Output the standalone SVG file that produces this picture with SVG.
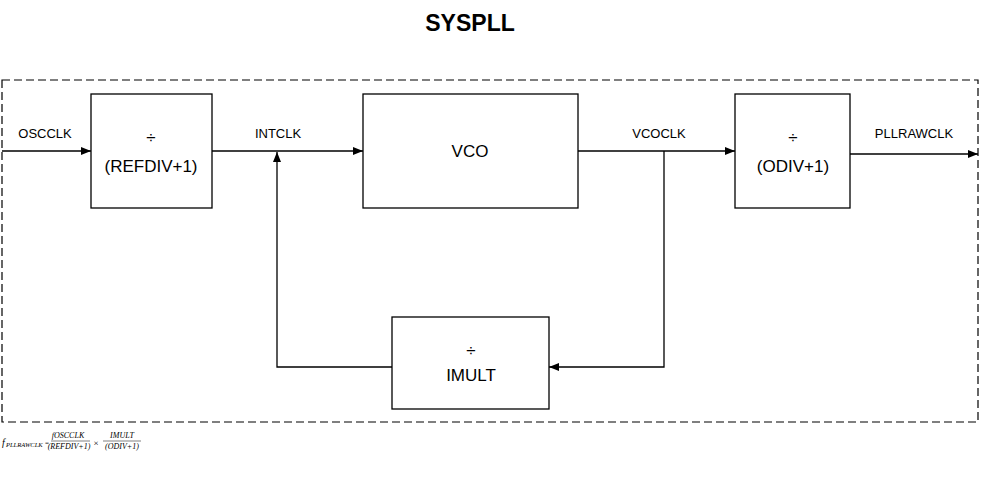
<svg xmlns="http://www.w3.org/2000/svg" width="983" height="487" viewBox="0 0 983 487">
<style>
.box{fill:#fff;stroke:#000;stroke-width:1.3}
.ln{fill:none;stroke:#000;stroke-width:1.3}
.lbl{font-family:"Liberation Sans",Arial,sans-serif;font-size:13px;fill:#000;text-anchor:middle}
.bt{font-family:"Liberation Sans",Arial,sans-serif;font-size:17px;fill:#000;text-anchor:middle}
.fm{font-family:"Liberation Serif","Times New Roman",serif;font-style:italic;fill:#000}
</style>
<defs>
<marker id="ah" viewBox="0 0 10 8" refX="10" refY="4" markerWidth="10" markerHeight="8" markerUnits="userSpaceOnUse" orient="auto">
<path d="M0,0 L10,4 L0,8 Z" fill="#000"/>
</marker>
</defs>
<rect width="983" height="487" fill="#fff"/>
<text x="470" y="31" font-family="Liberation Sans,Arial,sans-serif" font-weight="bold" font-size="23" text-anchor="middle">SYSPLL</text>
<rect id="border" x="2" y="80" width="976" height="342" fill="none" stroke="#000" stroke-width="1.2" stroke-dasharray="8,4"/>
<g id="connectors">
<line class="ln" x1="2" y1="151" x2="91" y2="151" marker-end="url(#ah)"/>
<line class="ln" x1="212" y1="151" x2="363" y2="151" marker-end="url(#ah)"/>
<line class="ln" x1="578" y1="151" x2="735" y2="151" marker-end="url(#ah)"/>
<line class="ln" x1="850" y1="154" x2="978" y2="154" marker-end="url(#ah)"/>
<polyline class="ln" points="664,151 664,367 549,367" marker-end="url(#ah)"/>
<polyline class="ln" points="392,367 277,367 277,152" marker-end="url(#ah)"/>
<text class="lbl" x="45" y="138">OSCCLK</text>
<text class="lbl" x="278" y="138">INTCLK</text>
<text class="lbl" x="659" y="138">VCOCLK</text>
<text class="lbl" x="914" y="138">PLLRAWCLK</text>
</g>
<g id="refdiv">
<rect class="box" x="91" y="94" width="121" height="114"/>
<text class="bt" x="151" y="143">÷</text>
<text class="bt" x="151" y="172">(REFDIV+1)</text>
</g>
<g id="vco">
<rect class="box" x="363" y="94" width="215" height="114"/>
<text class="bt" x="470" y="157">VCO</text>
</g>
<g id="odiv">
<rect class="box" x="735" y="94" width="115" height="114"/>
<text class="bt" x="793" y="143">÷</text>
<text class="bt" x="793" y="172">(ODIV+1)</text>
</g>
<g id="imult">
<rect class="box" x="392" y="317" width="157" height="92"/>
<text class="bt" x="471" y="356">÷</text>
<text class="bt" x="471" y="381">IMULT</text>
</g>
<g id="formula">
<text class="fm" x="2" y="446" style="font-size:10px">f</text>
<text class="fm" x="6" y="447" style="font-size:6.5px">PLLRAWCLK</text>
<text class="fm" x="45" y="445" style="font-size:7px;font-style:normal">=</text>
<text class="fm" x="68" y="438" text-anchor="middle" style="font-size:8px">fOSCCLK</text>
<line x1="51" y1="441" x2="90" y2="441" stroke="#000" stroke-width="0.5"/>
<text class="fm" x="69" y="449" text-anchor="middle" style="font-size:8px">(REFDIV+1)</text>
<text class="fm" x="96" y="446" text-anchor="middle" style="font-size:9px;font-style:normal">×</text>
<text class="fm" x="122" y="438" text-anchor="middle" style="font-size:8px">IMULT</text>
<line x1="103" y1="441" x2="141" y2="441" stroke="#000" stroke-width="0.5"/>
<text class="fm" x="122" y="449" text-anchor="middle" style="font-size:8px">(ODIV+1)</text>
</g>
</svg>
